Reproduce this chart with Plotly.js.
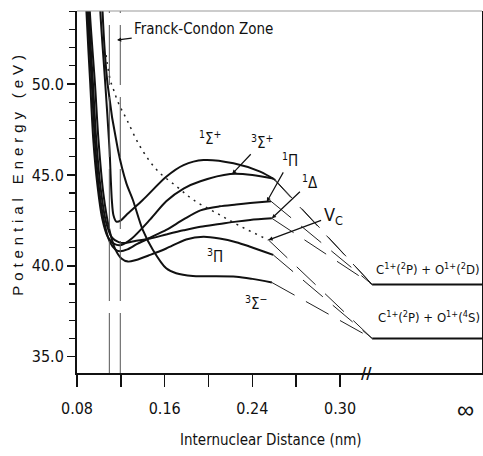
<!DOCTYPE html>
<html><head><meta charset="utf-8">
<script src="https://cdn.plot.ly/plotly-3.0.1.min.js"></script>
<style>
html,body{margin:0;padding:0;background:#fff;}
#chart{width:483px;height:456px;}
g.annotation[data-index="0"] text{letter-spacing:4.9px;}
</style></head><body><div id="chart"></div>
<script>
// ---- axis ticks ----
const xTickVals = [0.08, 0.16, 0.24, 0.32];
const xTickText = ['0.08', '0.16', '0.24', '0.30'];
const xMinorVals = [0.12, 0.20, 0.28];
const yTickVals = [35, 40, 45, 50];
const yTickText = ['35.0', '40.0', '45.0', '50.0'];

// ---- potential curves (r in nm, E in eV) ----
const s1pR = [0.1005, 0.1013, 0.1058, 0.1097, 0.1108, 0.1118, 0.1132, 0.1159, 0.1200, 0.1250, 0.1400, 0.1614, 0.1772, 0.1954, 0.2228, 0.2471, 0.2610];
const s1pE = [56.0, 54.0, 50.0, 46.4, 44.8, 43.6, 42.8, 42.43, 42.5, 42.8, 43.62, 44.9, 45.54, 45.82, 45.64, 45.18, 44.72];

const s3pR = [0.0878, 0.0886, 0.0921, 0.0948, 0.0985, 0.1030, 0.1080, 0.1140, 0.1204, 0.1300, 0.1468, 0.1614, 0.1772, 0.1926, 0.2197, 0.2400, 0.2590];
const s3pE = [56.0, 54.0, 50.0, 47.0, 44.5, 42.6, 41.6, 41.2, 41.14, 41.5, 42.55, 43.55, 44.25, 44.65, 45.05, 45.0, 44.8];

const p1R = [0.0888, 0.0897, 0.0935, 0.0962, 0.1000, 0.1045, 0.1100, 0.1150, 0.1193, 0.1260, 0.1350, 0.1468, 0.1614, 0.1772, 0.1926, 0.2100, 0.2252, 0.2380, 0.2570];
const p1E = [56.0, 54.0, 50.0, 47.0, 44.3, 42.5, 41.3, 40.9, 40.8, 40.9, 41.2, 41.55, 41.97, 42.55, 43.05, 43.27, 43.37, 43.45, 43.55];

const d1R = [0.0897, 0.0906, 0.0946, 0.0975, 0.1015, 0.1065, 0.1120, 0.1180, 0.1235, 0.1320, 0.1468, 0.1614, 0.1772, 0.1926, 0.2100, 0.2252, 0.2380, 0.2578];
const d1E = [56.0, 54.0, 50.0, 47.0, 44.3, 42.4, 41.55, 41.3, 41.25, 41.35, 41.5, 41.72, 41.95, 42.15, 42.3, 42.43, 42.52, 42.61];

const p3R = [0.0907, 0.0917, 0.0964, 0.0995, 0.1040, 0.1095, 0.1150, 0.1205, 0.1265, 0.1340, 0.1468, 0.1614, 0.1796, 0.1954, 0.2100, 0.2252, 0.2380, 0.2590];
const p3E = [56.0, 54.0, 50.0, 47.0, 44.0, 42.0, 40.9, 40.4, 40.23, 40.32, 40.6, 40.95, 41.45, 41.6, 41.5, 41.3, 41.05, 40.6];

const s3mR = [0.1025, 0.1033, 0.1079, 0.1174, 0.1250, 0.1310, 0.1400, 0.1493, 0.1614, 0.1705, 0.1857, 0.2252, 0.2400, 0.2578];
const s3mE = [56.0, 54.0, 50.0, 46.37, 44.55, 43.62, 41.97, 40.87, 39.86, 39.59, 39.44, 39.4, 39.28, 39.08];

// Coulomb curve Vc (dotted)
const vcR = [0.1065, 0.1103, 0.1134, 0.1179, 0.1256, 0.1377, 0.1529, 0.1712, 0.1863, 0.2076, 0.2300, 0.2547];
const vcE = [51.6, 50.23, 49.68, 48.94, 48.02, 46.55, 45.27, 44.35, 43.62, 42.89, 42.15, 41.42];

// Franck-Condon zone limits
const fcR = [0.1095, 0.1195];

// dissociation asymptotes
const asymR = [0.3493, 0.4600];
const upperE = 38.97;   // C1+(2P) + O1+(2D)
const lowerE = 36.0;    // C1+(2P) + O1+(4S)

const yRange = [34.10, 54.02];
const xRange = [0.08, 0.4495];

const black = '#111';
const traces = [];
const curve = (r, e) => ({x: r, y: e, mode: 'lines', type: 'scatter', hoverinfo: 'skip',
  line: {color: black, width: 2, shape: 'spline', smoothing: 0.8}});
[[s1pR, s1pE], [s3pR, s3pE], [p1R, p1E], [d1R, d1E], [p3R, p3E], [s3mR, s3mE]].forEach(c => traces.push(curve(c[0], c[1])));

traces.push({x: vcR, y: vcE, mode: 'lines', type: 'scatter', hoverinfo: 'skip',
  line: {color: '#222', width: 1.5, dash: '2px,5px', shape: 'spline'}});

fcR.forEach(r => traces.push({x: [r, r], y: yRange, mode: 'lines', type: 'scatter', hoverinfo: 'skip',
  line: {color: '#555', width: 1, dash: '60px,12px'}}));

// dashed connectors from curve ends to asymptotes
const conn = [[s1pR, s1pE, upperE], [s3pR, s3pE, upperE], [p1R, p1E, upperE], [d1R, d1E, upperE],
              [vcR, vcE, lowerE], [p3R, p3E, lowerE], [s3mR, s3mE, lowerE]];
conn.forEach(c => {
  const n = c[0].length - 1;
  traces.push({x: [c[0][n], asymR[0]], y: [c[1][n], c[2]], mode: 'lines', type: 'scatter', hoverinfo: 'skip',
    line: {color: '#222', width: 1, dash: '26px,13px'}});
});

[upperE, lowerE].forEach(e => traces.push({x: asymR, y: [e, e], mode: 'lines', type: 'scatter', hoverinfo: 'skip',
  line: {color: black, width: 2}}));

const NF = '"Liberation Sans Narrow", "DejaVu Sans Condensed", "Liberation Sans", sans-serif';
const lab = (x, y, t, size) => ({x: x, y: y, xref: 'x', yref: 'y', text: t, showarrow: false,
  font: {family: NF, size: size || 15, color: black}});
// label with a leader: text centred at (tx,ty), arrow tip at (x,y)
const lead = (tx, ty, x, y, t, size) => ({x: x, y: y, ax: tx, ay: ty, xref: 'x', yref: 'y', axref: 'x', ayref: 'y',
  text: t, font: {family: NF, size: size || 15, color: black}, showarrow: true, arrowhead: 2, arrowsize: 0.7,
  arrowwidth: 1.2, arrowcolor: black, standoff: 0, startstandoff: 1});

const annotations = [
  {text: 'Potential Energy (eV)', xref: 'paper', yref: 'paper', x: -0.148, y: 0.552, textangle: -90,
   showarrow: false, xanchor: 'center', yanchor: 'middle', font: {family: '"Liberation Sans", sans-serif', size: 15, color: black}},
  {text: 'Internuclear Distance (nm)', xref: 'paper', yref: 'paper', x: 0.4778, y: -0.185,
   showarrow: false, xanchor: 'center', yanchor: 'middle', font: {family: NF, size: 15, color: black}},
  {text: '\u221E', xref: 'x', yref: 'paper', x: 0.434, y: -0.102, showarrow: false, yanchor: 'middle',
   font: {family: '"Liberation Sans", sans-serif', size: 24, color: black}},
  {text: '<b>//</b>', xref: 'x', yref: 'paper', x: 0.3437, y: 0.0, showarrow: false, yanchor: 'middle',
   font: {family: NF, size: 16, color: black}},
  lead(0.1956, 53.03, 0.1165, 52.42, 'Franck-Condon Zone', 15),
  lab(0.2015, 47.03, '<sup>1</sup>\u03A3<sup>+</sup>', 15),
  lead(0.2490, 46.81, 0.2216, 45.05, '<sup>3</sup>\u03A3<sup>+</sup>', 15),
  lead(0.2745, 45.82, 0.2532, 43.526, '<sup>1</sup>\u03A0', 15),
  lead(0.2927, 44.61, 0.2578, 42.613, '<sup>1</sup>\u0394', 15),
  lead(0.3136, 42.74, 0.2547, 41.419, 'V<sub>C</sub>', 18),
  lab(0.2061, 40.54, '<sup>3</sup>\u03A0', 15),
  lab(0.2435, 37.95, '<sup>3</sup>\u03A3<sup>\u2212</sup>', 15),
  lab(0.4002, 39.82, 'C<sup>1+</sup>(<sup>2</sup>P) + O<sup>1+</sup>(<sup>2</sup>D)', 13),
  lab(0.4011, 37.18, 'C<sup>1+</sup>(<sup>2</sup>P) + O<sup>1+</sup>(<sup>4</sup>S)', 13)
];

const shapes = [
  {type: 'line', xref: 'paper', yref: 'paper', x0: 0, y0: 1, x1: 1, y1: 1, line: {color: '#999', width: 1}}
];

const layout = {
  width: 483, height: 456,
  margin: {l: 77, r: 1, t: 11, b: 83},
  paper_bgcolor: '#fff', plot_bgcolor: '#fff',
  showlegend: false,
  font: {family: NF, size: 16, color: black},
  xaxis: {range: xRange, tickmode: 'array', tickvals: xTickVals, ticktext: xTickText,
    showgrid: false, zeroline: false, showline: true, linecolor: black, linewidth: 2,
    ticks: 'outside', ticklen: 12, tickwidth: 1.5, tickcolor: black, ticklabelstandoff: 8,
    minor: {tickmode: 'array', tickvals: xMinorVals, ticks: 'outside', ticklen: 12, tickwidth: 1.5, tickcolor: black},
    tickfont: {family: NF, size: 16, color: black}},
  yaxis: {range: yRange, tickmode: 'array', tickvals: yTickVals, ticktext: yTickText,
    showgrid: false, zeroline: false, showline: true, mirror: true, linecolor: black, linewidth: 2,
    ticks: 'outside', ticklen: 8, tickwidth: 1.5, tickcolor: black,
    minor: {tickmode: 'linear', tick0: 35, dtick: 1, ticks: 'outside', ticklen: 6, tickwidth: 1.2, tickcolor: black},
    tickfont: {family: NF, size: 16, color: black}},
  annotations: annotations,
  shapes: shapes
};

Plotly.newPlot('chart', traces, layout, {displayModeBar: false, staticPlot: true});
</script></body></html>
